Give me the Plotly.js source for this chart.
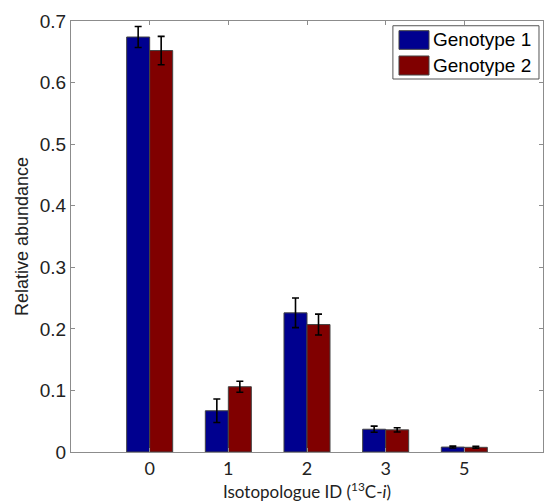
<!DOCTYPE html>
<html>
<head>
<meta charset="utf-8">
<script src="https://cdn.plot.ly/plotly-3.0.1.min.js"></script>
<style>html,body{margin:0;padding:0;background:#fff;}#chart{width:544px;height:503px;}</style>
</head>
<body>
<div id="chart"></div>
<script>
const categories = ['0', '1', '2', '3', '5'];
const seriesNames = ['Genotype 1', 'Genotype 2'];
const genotype1 = [0.674, 0.067, 0.226, 0.037, 0.008];
const genotype1Err = [0.017, 0.019, 0.024, 0.005, 0.0015];
const genotype2 = [0.652, 0.106, 0.207, 0.036, 0.0076];
const genotype2Err = [0.023, 0.009, 0.017, 0.0035, 0.0015];
const yTicks = [0, 0.1, 0.2, 0.3, 0.4, 0.5, 0.6, 0.7];
const colors = ['#00008F', '#800000'];

function barTrace(name, y, err, color) {
  return {
    type: 'bar', name: name, x: categories, y: y,
    marker: {color: color, line: {color: '#444444', width: 1}},
    error_y: {type: 'data', array: err, visible: true, color: '#000000', thickness: 1.6, width: 3.5},
    showlegend: false, hoverinfo: 'skip'
  };
}

const data = [
  barTrace(seriesNames[0], genotype1, genotype1Err, colors[0]),
  barTrace(seriesNames[1], genotype2, genotype2Err, colors[1])
];

// custom legend (paper coords)
const shapes = [
  {type: 'rect', xref: 'paper', yref: 'paper', x0: 0.682, x1: 0.9915, y0: 0.8654, y1: 0.989,
   line: {color: '#555555', width: 1}, fillcolor: '#ffffff', layer: 'above'},
  {type: 'rect', xref: 'paper', yref: 'paper', x0: 0.6949, x1: 0.7585, y0: 0.9343, y1: 0.9775,
   line: {color: '#444444', width: 1}, fillcolor: colors[0], layer: 'above'},
  {type: 'rect', xref: 'paper', yref: 'paper', x0: 0.6949, x1: 0.7585, y0: 0.8747, y1: 0.9188,
   line: {color: '#444444', width: 1}, fillcolor: colors[1], layer: 'above'}
];
const annotations = [
  {xref: 'paper', yref: 'paper', x: 0.7627, y: 0.956, xanchor: 'left', yanchor: 'middle', showarrow: false,
   text: seriesNames[0], font: {family: 'Liberation Sans, Arial, sans-serif', size: 19, color: '#000'}},
  {xref: 'paper', yref: 'paper', x: 0.7627, y: 0.8968, xanchor: 'left', yanchor: 'middle', showarrow: false,
   text: seriesNames[1], font: {family: 'Liberation Sans, Arial, sans-serif', size: 19, color: '#000'}}
];

const layout = {
  width: 544, height: 503,
  margin: {l: 71, r: 1, t: 21, b: 51, pad: 0},
  paper_bgcolor: '#ffffff', plot_bgcolor: '#ffffff',
  barmode: 'group', bargap: 0.415, bargroupgap: 0,
  showlegend: false,
  xaxis: {
    type: 'category', range: [-1, 5], showgrid: false, zeroline: false,
    showline: true, linecolor: '#8c8c8c', linewidth: 1, mirror: 'ticks',
    ticks: 'inside', ticklen: 4, tickcolor: '#8c8c8c',
    tickfont: {family: 'Lato, Noto Sans, sans-serif', size: 18, color: '#222'},
    title: {text: 'Isotopologue ID (<sup>13</sup>C-<i>i</i>)', standoff: 2,
            font: {family: 'Lato, Noto Sans, sans-serif', size: 17, color: '#222'}}
  },
  yaxis: {
    range: [0, 0.7], tickvals: yTicks, ticktext: yTicks.map(v => String(v)),
    showgrid: false, zeroline: false,
    showline: true, linecolor: '#8c8c8c', linewidth: 1, mirror: 'ticks',
    ticks: 'inside', ticklen: 4, tickcolor: '#8c8c8c',
    tickfont: {family: 'Liberation Sans, Arial, sans-serif', size: 19, color: '#222'},
    title: {text: 'Relative abundance', standoff: 6,
            font: {family: 'Liberation Sans, Arial, sans-serif', size: 18, color: '#222'}}
  },
  shapes: shapes,
  annotations: annotations
};

Plotly.newPlot('chart', data, layout, {displayModeBar: false, staticPlot: true});
</script>
</body>
</html>
